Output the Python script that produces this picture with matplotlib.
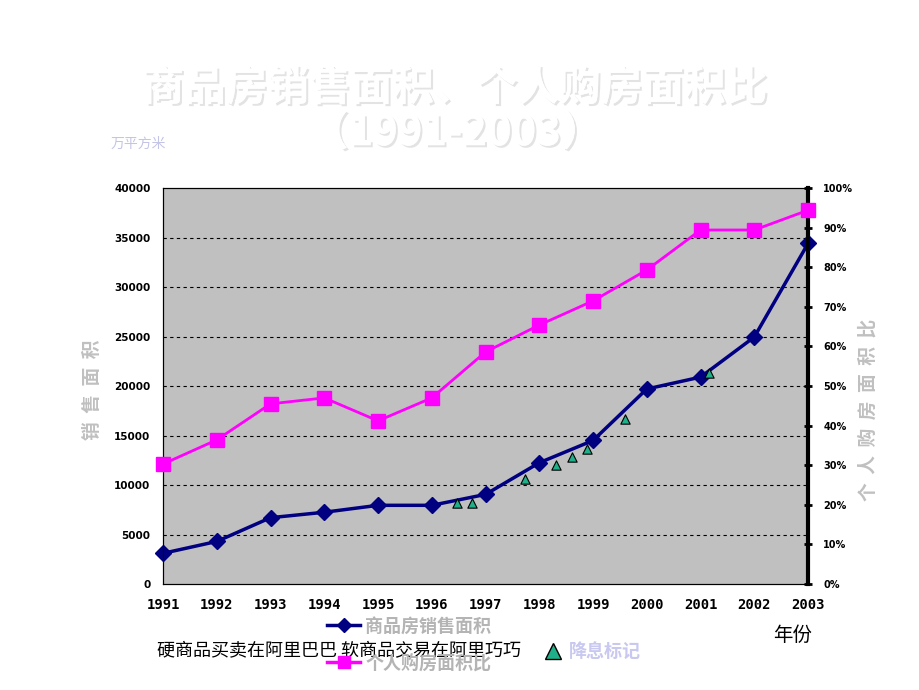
import matplotlib
matplotlib.use("Agg")
import matplotlib.pyplot as plt
import matplotlib.patheffects as pe
from matplotlib.lines import Line2D
from matplotlib.ticker import FuncFormatter

plt.rcParams['font.family'] = ['Noto Sans CJK SC', 'DejaVu Sans']

# ---------- data ----------
years = [1991, 1992, 1993, 1994, 1995, 1996, 1997, 1998, 1999, 2000, 2001, 2002, 2003]
sales_area = [3100, 4300, 6700, 7250, 7950, 7950, 9050, 12250, 14500, 19700, 20900, 24950, 34400]
personal_ratio = [0.303, 0.364, 0.455, 0.470, 0.412, 0.470, 0.586, 0.654, 0.715, 0.793, 0.894, 0.894, 0.944]

# rate-cut markers (fractional year, area)
cut_x = [1996.46, 1996.74, 1997.74, 1998.31, 1998.60, 1998.88, 1999.60, 2001.16]
cut_y = [8150, 8150, 10600, 12000, 12850, 13650, 16700, 21300]

left_ticks = [0, 5000, 10000, 15000, 20000, 25000, 30000, 35000, 40000]
right_ticks = [0, 0.1, 0.2, 0.3, 0.4, 0.5, 0.6, 0.7, 0.8, 0.9, 1.0]

# ---------- figure ----------
fig = plt.figure(figsize=(9.2, 6.9), dpi=100, facecolor="white")
ax = fig.add_axes([0.1772, 0.1536, 0.7011, 0.5739], facecolor="#c0c0c0")
ax2 = ax.twinx()

# grid
for v in left_ticks[1:-1]:
    ax.axhline(v, color="black", lw=0.8, ls=(0, (3, 3)), zorder=1)

ax.plot(years, sales_area, color="#000080", lw=2.5, marker="D", ms=8.5,
        clip_on=False, zorder=4)
ax.scatter(cut_x, cut_y, marker="^", s=45, color="#1fb08a", edgecolor="black",
           linewidth=0.8, zorder=5)
ax2.plot(years, personal_ratio, color="#ff00ff", lw=2, marker="s", ms=9.5,
         clip_on=False, zorder=4)

ax.set_xlim(1991, 2003)
ax.set_ylim(0, 40000)
ax2.set_ylim(0, 1.0)
ax.set_xticks(years)
ax.set_yticks(left_ticks)
ax2.set_yticks(right_ticks)
ax2.yaxis.set_major_formatter(FuncFormatter(lambda v, p: f"{int(round(v * 100))}%"))

ax.tick_params(axis="y", length=0, pad=9, labelsize=7.5)
ax.tick_params(axis="x", length=0, pad=10)
ax2.tick_params(axis="y", direction="inout", length=6, width=2, pad=8, labelsize=7)
for lab in ax.get_yticklabels() + ax2.get_yticklabels():
    lab.set_fontweight("bold")
    lab.set_family("DejaVu Sans")
for lab in ax.get_xticklabels():
    lab.set_fontweight("bold")
    lab.set_family("DejaVu Sans Mono")
    lab.set_fontsize(10)

for s in ["left", "top", "bottom"]:
    ax.spines[s].set_linewidth(0.8)
ax2.spines["right"].set_linewidth(3)

# axis titles
ax.set_ylabel("销  售  面  积", color="#c0c0c0", fontsize=13.5, fontweight="bold")
ax2.set_ylabel("个  人  购  房  面  积  比", color="#c0c0c0", fontsize=13.5,
               fontweight="bold", rotation=90)
ax.yaxis.set_label_coords(-0.095, 0.49)
ax2.yaxis.set_label_coords(1.078, 0.44)

# title (embossed look)
shadow = [pe.withSimplePatchShadow(offset=(1.5, -1.5), shadow_rgbFace="#b0b0b0", alpha=0.35),
          pe.Normal()]
fig.text(0.494, 0.872, "商品房销售面积、个人购房面积比", ha="center", va="center",
         fontsize=30, fontweight="bold", color="white", path_effects=shadow)
fig.text(0.494, 0.807, "（1991-2003）", ha="center", va="center",
         fontsize=30, fontweight="bold", color="white", path_effects=shadow)

fig.text(0.12, 0.792, "万平方米", fontsize=10, color="#c4c4e6", va="center")

# legend
handles = [Line2D([], [], color="#000080", lw=2.5, marker="D", ms=7),
           Line2D([], [], color="#ff00ff", lw=2.5, marker="s", ms=8)]
leg = fig.legend(handles, ["商品房销售面积", "个人购房面积比"], loc="center",
                 bbox_to_anchor=(0.445, 0.066), frameon=False, fontsize=13,
                 handlelength=1.8, labelspacing=1.0, handletextpad=0.3)
for t in leg.get_texts():
    t.set_color("#b4b4b4")
    t.set_fontweight("bold")

fig.text(0.171, 0.056, "硬商品买卖在阿里巴巴 软商品交易在阿里巧巧", fontsize=13,
         color="black", va="center")
fig.lines.append(Line2D([0.601], [0.056], marker="^", ms=11, color="#1fb08a",
                        markeredgecolor="black", transform=fig.transFigure))
fig.text(0.618, 0.056, "降息标记", fontsize=13, color="#c8c8f0",
         fontweight="bold", va="center")
fig.text(0.84, 0.079, "年份", fontsize=14, color="black", va="center")

fig.savefig("out.png", dpi=100, facecolor="white")
